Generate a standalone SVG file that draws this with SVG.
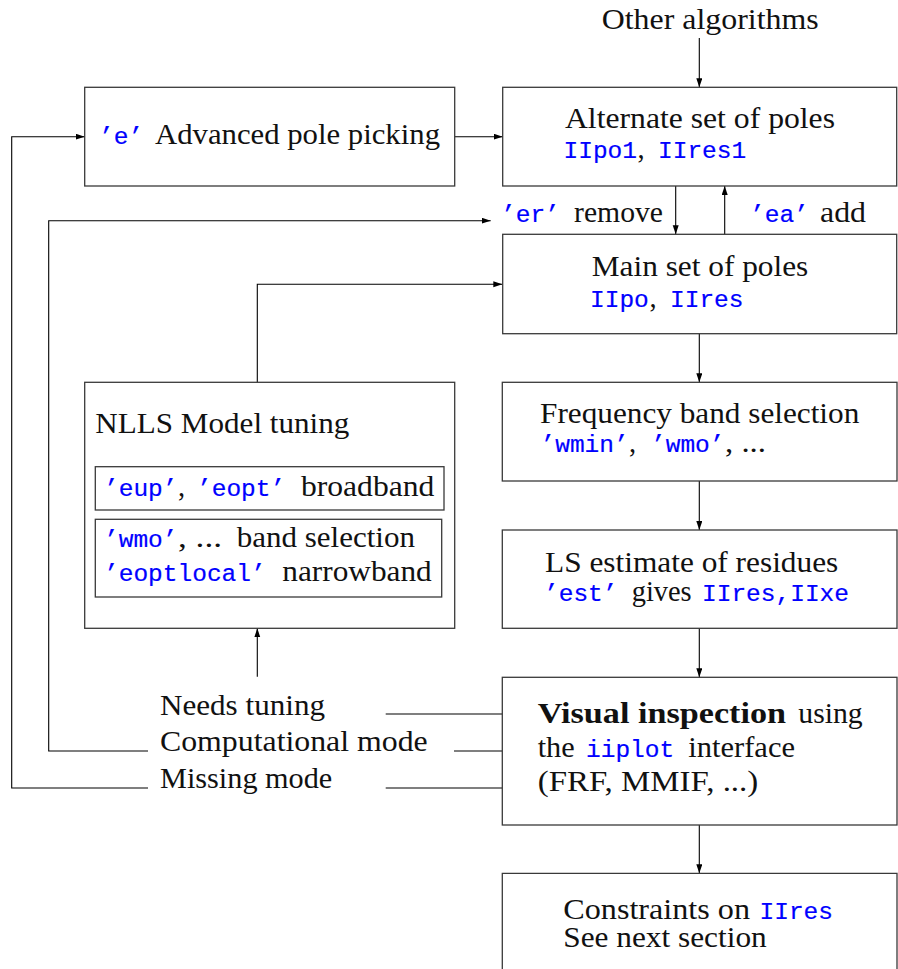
<svg xmlns="http://www.w3.org/2000/svg" width="898" height="969" viewBox="0 0 898 969">
  <style>
    .box { fill: none; stroke: #3a3a3a; stroke-width: 1.3; }
    .link { fill: none; stroke: #000; stroke-width: 1.1; }
    .rm { font-family: "Liberation Serif", "DejaVu Serif", serif; font-size: 28.5px; fill: #111; }
    .bf { font-family: "Liberation Serif", "DejaVu Serif", serif; font-size: 28.5px; font-weight: bold; fill: #111; }
    .tt { font-family: "Liberation Mono", "DejaVu Sans Mono", monospace; font-size: 24.5px; fill: #0000ff; stroke: #0000ff; stroke-width: 0.2; }
  </style>
  <defs>
    <marker id="arrow" markerUnits="userSpaceOnUse" markerWidth="10" markerHeight="7" refX="9" refY="3" orient="auto">
      <path d="M0,0 L9,3 L0,6 z" fill="#000"/>
    </marker>
  </defs>

  <rect width="898" height="969" fill="#fff"/>

  <!-- connectors -->
  <g id="connectors">
    <line class="link" x1="699.3" y1="38" x2="699.3" y2="87.3" marker-end="url(#arrow)"/>
    <line class="link" x1="454.7" y1="136.7" x2="502.7" y2="136.7" marker-end="url(#arrow)"/>
    <path class="link" d="M148,788 H11.7 V136.7 H84.7" marker-end="url(#arrow)"/>
    <path class="link" d="M148,751 H48.7 V220.7 H490.7" marker-end="url(#arrow)"/>
    <line class="link" x1="675.7" y1="186" x2="675.7" y2="234.3" marker-end="url(#arrow)"/>
    <line class="link" x1="724.7" y1="234.3" x2="724.7" y2="186" marker-end="url(#arrow)"/>
    <path class="link" d="M257.3,382.3 V284.3 H502.3" marker-end="url(#arrow)"/>
    <line class="link" x1="699.3" y1="333.7" x2="699.3" y2="382.3" marker-end="url(#arrow)"/>
    <line class="link" x1="699.3" y1="481" x2="699.3" y2="530" marker-end="url(#arrow)"/>
    <line class="link" x1="699.3" y1="628.3" x2="699.3" y2="677.3" marker-end="url(#arrow)"/>
    <line class="link" x1="699.3" y1="825" x2="699.3" y2="873.3" marker-end="url(#arrow)"/>
    <line class="link" x1="257.3" y1="676.7" x2="257.3" y2="628.3" marker-end="url(#arrow)"/>
    <line class="link" x1="385.7" y1="714" x2="502.3" y2="714"/>
    <line class="link" x1="454" y1="751" x2="502.3" y2="751"/>
    <line class="link" x1="385.7" y1="788" x2="502.3" y2="788"/>
  </g>

  <!-- free labels -->
  <g id="other-algorithms">
    <text class="rm" x="601.7" y="29" textLength="217" lengthAdjust="spacingAndGlyphs">Other algorithms</text>
  </g>
  <g id="label-remove">
    <text class="tt" x="501" y="222">’er’</text>
    <text class="rm" x="574" y="222" textLength="89" lengthAdjust="spacingAndGlyphs">remove</text>
  </g>
  <g id="label-add">
    <text class="tt" x="750" y="222">’ea’</text>
    <text class="rm" x="820" y="222" textLength="46" lengthAdjust="spacingAndGlyphs">add</text>
  </g>
  <g id="mode-labels">
    <text class="rm" x="160" y="715" textLength="165" lengthAdjust="spacingAndGlyphs">Needs tuning</text>
    <text class="rm" x="160" y="751" textLength="267.7" lengthAdjust="spacingAndGlyphs">Computational mode</text>
    <text class="rm" x="160" y="787.7" textLength="172.3" lengthAdjust="spacingAndGlyphs">Missing mode</text>
  </g>

  <!-- nodes -->
  <g id="advanced-picking">
    <rect class="box" x="84.7" y="87.3" width="370" height="98.7"/>
    <text class="tt" x="99" y="144">’e’</text>
    <text class="rm" x="155" y="144" textLength="285" lengthAdjust="spacingAndGlyphs">Advanced pole picking</text>
  </g>

  <g id="alternate-poles">
    <rect class="box" x="502.7" y="87.3" width="394" height="98.7"/>
    <text class="rm" x="565" y="128.3" textLength="270" lengthAdjust="spacingAndGlyphs">Alternate set of poles</text>
    <text class="tt" x="563.5" y="158.3">IIpo1</text>
    <text class="rm" x="637.5" y="158.3">,</text>
    <text class="tt" x="658" y="158.3">IIres1</text>
  </g>

  <g id="main-poles">
    <rect class="box" x="502.7" y="234.3" width="394" height="99.4"/>
    <text class="rm" x="591.7" y="275.7" textLength="216.6" lengthAdjust="spacingAndGlyphs">Main set of poles</text>
    <text class="tt" x="590" y="306.7">IIpo</text>
    <text class="rm" x="649.5" y="306.7">,</text>
    <text class="tt" x="670" y="306.7">IIres</text>
  </g>

  <g id="band-selection">
    <rect class="box" x="502.3" y="382.3" width="394.7" height="98.7"/>
    <text class="rm" x="540" y="422.7" textLength="319.3" lengthAdjust="spacingAndGlyphs">Frequency band selection</text>
    <text class="tt" x="540.5" y="452">’wmin’</text>
    <text class="rm" x="629" y="452">,</text>
    <text class="tt" x="651" y="452">’wmo’</text>
    <text class="rm" x="725" y="452" textLength="41" lengthAdjust="spacingAndGlyphs">, ...</text>
  </g>

  <g id="ls-estimate">
    <rect class="box" x="502.3" y="530" width="394.7" height="98.3"/>
    <text class="rm" x="545" y="572" textLength="293.3" lengthAdjust="spacingAndGlyphs">LS estimate of residues</text>
    <text class="tt" x="544" y="600.5">’est’</text>
    <text class="rm" x="631.7" y="600.5" textLength="60" lengthAdjust="spacingAndGlyphs">gives</text>
    <text class="tt" x="702" y="600.5">IIres,IIxe</text>
  </g>

  <g id="visual-inspection">
    <rect class="box" x="502.3" y="677.3" width="394.7" height="147.7"/>
    <text class="bf" x="537.7" y="722.7" textLength="248.3" lengthAdjust="spacingAndGlyphs">Visual inspection</text>
    <text class="rm" x="798.3" y="722.7" textLength="64.4" lengthAdjust="spacingAndGlyphs">using</text>
    <text class="rm" x="537.7" y="756.7" textLength="37" lengthAdjust="spacingAndGlyphs">the</text>
    <text class="tt" x="586" y="756.7">iiplot</text>
    <text class="rm" x="688.3" y="756.7" textLength="106.7" lengthAdjust="spacingAndGlyphs">interface</text>
    <text class="rm" x="537.7" y="791" textLength="220.6" lengthAdjust="spacingAndGlyphs">(FRF, MMIF, ...)</text>
  </g>

  <g id="constraints">
    <path class="box" d="M502.3,975 V873.3 H897 V975"/>
    <text class="rm" x="563.3" y="919" textLength="186.7" lengthAdjust="spacingAndGlyphs">Constraints on</text>
    <text class="tt" x="759.5" y="919">IIres</text>
    <text class="rm" x="563.3" y="947" textLength="203.4" lengthAdjust="spacingAndGlyphs">See next section</text>
  </g>

  <g id="nlls-tuning">
    <rect class="box" x="84.7" y="382.3" width="370" height="246"/>
    <text class="rm" x="95.3" y="433" textLength="254" lengthAdjust="spacingAndGlyphs">NLLS Model tuning</text>
    <rect class="box" x="95.3" y="466.7" width="348.7" height="43.3"/>
    <text class="tt" x="104" y="496">’eup’</text>
    <text class="rm" x="178" y="496">,</text>
    <text class="tt" x="197" y="496">’eopt’</text>
    <text class="rm" x="301" y="496" textLength="133.3" lengthAdjust="spacingAndGlyphs">broadband</text>
    <rect class="box" x="95.3" y="519.3" width="346.4" height="77.7"/>
    <text class="tt" x="104" y="546.7">’wmo’</text>
    <text class="rm" x="178" y="546.7" textLength="44" lengthAdjust="spacingAndGlyphs">, ...</text>
    <text class="rm" x="236.7" y="546.7" textLength="178.3" lengthAdjust="spacingAndGlyphs">band selection</text>
    <text class="tt" x="104" y="581">’eoptlocal’</text>
    <text class="rm" x="282.3" y="581" textLength="149.4" lengthAdjust="spacingAndGlyphs">narrowband</text>
  </g>
</svg>
